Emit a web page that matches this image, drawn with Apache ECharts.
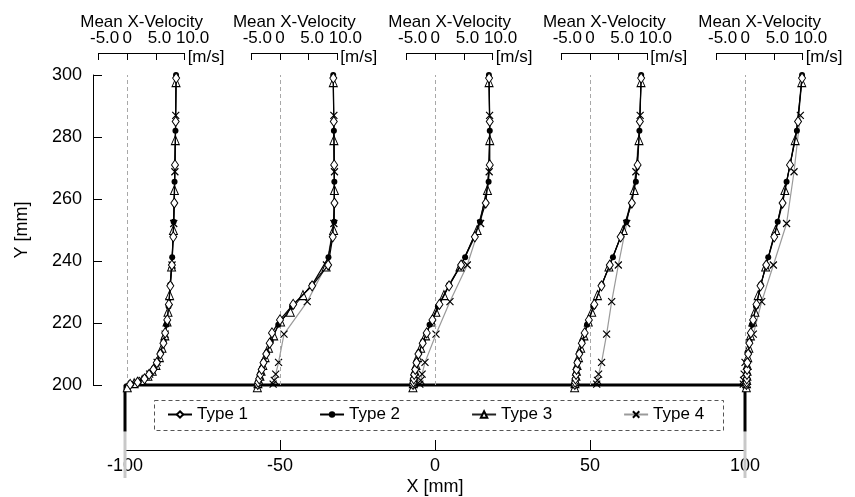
<!DOCTYPE html>
<html><head><meta charset="utf-8">
<script src="https://cdn.jsdelivr.net/npm/echarts@6/dist/echarts.min.js"></script>
<style>html,body{margin:0;padding:0;background:#fff}#c{width:855px;height:497px}</style>
</head><body><div id="c"></div>
<script>
// ---------- data ----------
const seriesNames = ['Type 1', 'Type 2', 'Type 3', 'Type 4'];
const stationX = [-100, -50, 0, 50, 100];           // mm, profile stations
const xTickStep = 50;                               // mm
const yTickStep = 20;                               // mm
const velTicks = [-5, 0, 5, 10];                    // m/s

// measurement heights (mm) per type
const yType1 = [200.2, 200.9, 202, 203.4, 205, 207.2, 210, 213.5, 216.8, 221, 226, 232, 238.7, 247.8, 258.7, 271, 285, 299];
const yType2 = [200.3, 201, 202.2, 203.8, 205.4, 207.5, 210.4, 214, 219.4, 225.3, 232.3, 241.2, 252.7, 265.6, 282, 300];
const yType3 = [199.3, 200.6, 201.6, 203, 204.6, 206.5, 209, 212, 216, 220.5, 223.6, 229, 238.2, 250, 262.9, 279, 297.7];
const yType4 = [200.3, 201.5, 203.5, 207.3, 216.4, 226.9, 238.7, 252.1, 268.8, 287];

// mean x-velocity (m/s), one list per station (x = -100, -50, 0, 50, 100)
const uType1 = [
  [0.5, 1.8, 3.0, 3.8, 4.55, 5.15, 5.75, 6.3, 6.6, 6.97, 7.25, 7.5, 7.78, 8.02, 8.2, 8.32, 8.44, 8.52],
  [-3.88, -3.8, -3.63, -3.43, -3.2, -2.88, -2.4, -1.8, -1.4, 0.0, 2.3, 5.6, 8.4, 9.2, 9.5, 9.45, 9.38, 9.3],
  [-3.88, -3.82, -3.75, -3.68, -3.5, -3.28, -2.95, -2.2, -1.5, -0.5, 0.72, 2.4, 4.5, 6.9, 8.8, 9.5, 9.5, 9.38],
  [-2.65, -2.6, -2.53, -2.43, -2.35, -2.2, -1.88, -1.43, -0.93, -0.2, 0.75, 2.0, 3.45, 5.35, 7.3, 8.3, 8.7, 8.92],
  [0.2, 0.23, 0.26, 0.29, 0.32, 0.36, 0.5, 0.71, 0.96, 1.36, 1.95, 2.65, 3.65, 5.05, 6.5, 7.8, 9.2, 9.9]
];
const uType2 = [
  [0.7, 2.0, 3.1, 4.0, 4.7, 5.25, 5.8, 6.35, 6.85, 7.2, 7.47, 7.83, 8.08, 8.24, 8.4, 8.5],
  [-3.9, -3.8, -3.62, -3.4, -3.17, -2.85, -2.3, -1.6, -0.3, 2.1, 5.6, 8.45, 9.45, 9.48, 9.4, 9.28],
  [-3.87, -3.81, -3.74, -3.64, -3.46, -3.25, -2.88, -2.15, -1.0, 0.45, 2.4, 5.2, 7.8, 9.3, 9.5, 9.35],
  [-2.65, -2.6, -2.52, -2.41, -2.33, -2.17, -1.83, -1.36, -0.52, 0.6, 2.04, 4.0, 6.35, 8.0, 8.62, 8.93],
  [0.2, 0.24, 0.26, 0.3, 0.33, 0.37, 0.52, 0.74, 1.17, 1.88, 2.69, 4.0, 5.65, 7.2, 9.0, 9.9]
];
const uType3 = [
  [0.0, 1.2, 2.6, 3.6, 4.35, 5.0, 5.6, 6.05, 6.55, 6.93, 7.1, 7.38, 7.72, 8.05, 8.22, 8.38, 8.5],
  [-3.95, -3.85, -3.7, -3.5, -3.3, -3.0, -2.6, -2.0, -1.1, 0.1, 1.8, 4.0, 8.05, 9.35, 9.5, 9.4, 9.3],
  [-3.9, -3.84, -3.77, -3.7, -3.56, -3.36, -3.1, -2.55, -1.7, -0.65, 0.1, 1.5, 4.3, 7.3, 9.1, 9.5, 9.38],
  [-2.68, -2.62, -2.56, -2.45, -2.37, -2.26, -2.0, -1.62, -1.06, -0.3, 0.3, 1.3, 3.3, 5.8, 7.7, 8.55, 8.9],
  [0.18, 0.22, 0.25, 0.28, 0.31, 0.34, 0.43, 0.62, 0.9, 1.3, 1.68, 2.25, 3.55, 5.3, 6.9, 8.7, 9.85]
];
const uType4 = [
  [0.8, 2.6, 3.9, 5.2, 6.6, 7.3, 7.8, 8.1, 8.3, 8.45],
  [-1.2, -1.0, -0.75, -0.25, 0.7, 4.75, 8.1, 9.4, 9.5, 9.4],
  [-2.7, -2.55, -2.3, -1.8, 0.12, 2.56, 5.58, 7.9, 9.4, 9.47],
  [1.17, 1.3, 1.5, 2.02, 2.9, 3.78, 4.94, 6.4, 8.0, 8.75],
  [-0.35, -0.3, -0.2, -0.05, 1.4, 2.86, 4.9, 7.2, 8.5, 9.6]
];

// wall geometry (mm)
const wallOutline = [[-100, 185], [-100, 200], [100, 200], [100, 185]];
const wallLowerLeft = [[-100, 185], [-100, 170]];
const wallLowerRight = [[100, 185], [100, 170]];

// ---------- layout ----------
const FONT = 'Liberation Sans, Arial, sans-serif';
const plotTop = 75, plotHeight = 310;
const mainLeft = 125, mainWidth = 620;
const velZeroPx = [127.3, 280, 435.3, 590, 745.3];
const pxPerMs = 5.733;

const yLevels = [yType1, yType2, yType3, yType4];
const uLevels = [uType1, uType2, uType3, uType4];

const styles = [
  { symbol: 'diamond', symbolSize: [7, 10], itemStyle: { color: '#fff', borderColor: '#000', borderWidth: 1 }, lineStyle: { color: '#000', width: 1.2 } },
  { symbol: 'circle', symbolSize: 6, itemStyle: { color: '#000', borderColor: '#000', borderWidth: 0 }, lineStyle: { color: '#000', width: 1.2 } },
  { symbol: 'triangle', symbolSize: [8, 9], itemStyle: { color: '#fff', borderColor: '#000', borderWidth: 1 }, lineStyle: { color: '#222', width: 1 } },
  { symbol: 'path://M0,0L10,10M10,0L0,10', symbolSize: 7, itemStyle: { color: 'rgba(0,0,0,0)', borderColor: '#000', borderWidth: 1.2 }, lineStyle: { color: '#9a9a9a', width: 1.2 } }
];

const gridBase = { top: plotTop, height: plotHeight, outerBoundsMode: 'none', containLabel: false };
const grids = [Object.assign({ left: mainLeft, width: mainWidth }, gridBase)];
const xAxes = [{
  gridIndex: 0, type: 'value', min: -100, max: 100, interval: xTickStep,
  position: 'bottom', offset: 65,
  axisLine: { onZero: false, lineStyle: { color: '#000', width: 1 } },
  axisTick: { inside: true, length: 10, lineStyle: { color: '#000' } },
  axisLabel: { color: '#000', fontSize: 18, fontFamily: FONT, margin: 7 },
  splitLine: { show: false },
  name: 'X [mm]', nameLocation: 'middle', nameGap: 28, nameMoveOverlap: false,
  nameTextStyle: { color: '#000', fontSize: 18, fontFamily: FONT }
}];
const yAxes = [{
  gridIndex: 0, type: 'value', min: 200, max: 300, interval: yTickStep,
  position: 'left', offset: 32,
  axisLine: { show: true, onZero: false, lineStyle: { color: '#000', width: 1 } },
  axisTick: { show: true, inside: true, length: 9, lineStyle: { color: '#000' } },
  axisLabel: { color: '#000', fontSize: 18, fontFamily: FONT, margin: 11 },
  splitLine: { show: false },
  name: 'Y [mm]', nameLocation: 'middle', nameGap: 62, nameRotate: 90, nameMoveOverlap: false,
  nameTextStyle: { color: '#000', fontSize: 18, fontFamily: FONT }
}];

const series = [
  { type: 'line', xAxisIndex: 0, yAxisIndex: 0, data: wallLowerLeft, symbol: 'none', clip: false, silent: true, lineStyle: { color: '#c8c8c8', width: 3 }, z: 1 },
  { type: 'line', xAxisIndex: 0, yAxisIndex: 0, data: wallLowerRight, symbol: 'none', clip: false, silent: true, lineStyle: { color: '#c8c8c8', width: 3 }, z: 1 },
  { type: 'line', xAxisIndex: 0, yAxisIndex: 0, data: wallOutline, symbol: 'none', clip: false, silent: true, lineStyle: { color: '#000', width: 3 }, z: 1 }
];

const richBase = { fontSize: 17, fontFamily: FONT, color: '#000' };
const velRich = {
  z: richBase,
  sa: Object.assign({ padding: [0, 0, 0, 12] }, richBase),   // -5.0
  sb: Object.assign({ padding: [0, 0, 0, 7] }, richBase),    // 5.0
  sc: Object.assign({ padding: [0, 0, 0, 16] }, richBase)    // 10.0
};
const velKey = { '-5': 'sa', '5': 'sb', '10': 'sc' };

stationX.forEach((sx, k) => {
  const gi = grids.length;
  grids.push(Object.assign({ left: velZeroPx[k] - 5 * pxPerMs, width: 15 * pxPerMs }, gridBase));
  const velAxisIdx = xAxes.length;
  xAxes.push({
    gridIndex: gi, type: 'value', min: velTicks[0], max: velTicks[velTicks.length - 1], interval: 5,
    position: 'top', offset: 22,
    axisLine: { onZero: false, lineStyle: { color: '#000', width: 1 } },
    axisTick: { inside: true, length: 7, lineStyle: { color: '#000' } },
    axisLabel: {
      color: '#000', fontSize: 17, fontFamily: FONT, margin: 6,
      formatter: v => v === 0 ? '{z|0}' : '{' + velKey[String(v)] + '|' + v.toFixed(1) + '}',
      rich: velRich
    },
    splitLine: { show: false },
    name: 'Mean X-Velocity', nameLocation: 'middle', nameGap: 22, nameMoveOverlap: false,
    nameTextStyle: { color: '#000', fontSize: 17, fontFamily: FONT }
  });
  xAxes.push({
    gridIndex: gi, type: 'value', min: velTicks[0], max: velTicks[velTicks.length - 1],
    position: 'top', offset: 18,
    axisLine: { show: false, onZero: false }, axisTick: { show: false }, axisLabel: { show: false }, splitLine: { show: false },
    name: '[m/s]', nameLocation: 'end', nameGap: 3, nameMoveOverlap: false,
    nameTextStyle: { color: '#000', fontSize: 17, fontFamily: FONT }
  });
  const yi = yAxes.length;
  yAxes.push({ gridIndex: gi, type: 'value', min: 200, max: 300, show: false, axisLine: { onZero: false } });

  for (let t = 3; t >= 0; t--) {
    const s = styles[t];
    const data = yLevels[t].map((y, i) => [uLevels[t][k][i], y]);
    const ser = {
      type: 'line', name: seriesNames[t], xAxisIndex: velAxisIdx, yAxisIndex: yi,
      data, clip: false, symbol: s.symbol, symbolSize: s.symbolSize, showSymbol: true,
      itemStyle: s.itemStyle, lineStyle: s.lineStyle, z: 3 + (3 - t)
    };
    if (t === 3) {
      ser.markLine = {
        silent: true, symbol: 'none', label: { show: false },
        lineStyle: { color: '#a8a8a8', type: [4, 3], width: 1 },
        data: [{ xAxis: 0 }]
      };
    }
    series.push(ser);
  }
});

const option = {
  animation: false,
  backgroundColor: '#fff',
  textStyle: { fontFamily: FONT },
  grid: grids,
  xAxis: xAxes,
  yAxis: yAxes,
  legend: {
    data: seriesNames, left: 167, top: 406, padding: 0,
    itemWidth: 24, itemHeight: 8, itemGap: 71,
    textStyle: { color: '#000', fontSize: 17, fontFamily: FONT }
  },
  graphic: [{
    type: 'rect', left: 152, top: 398, silent: true,
    shape: { width: 569, height: 30 },
    style: { fill: 'none', stroke: '#555', lineWidth: 1, lineDash: [4, 3] }, z: 0
  }],
  series
};
const chart = echarts.init(document.getElementById('c'), null, { renderer: 'canvas' });
chart.setOption(option);
</script></body></html>
